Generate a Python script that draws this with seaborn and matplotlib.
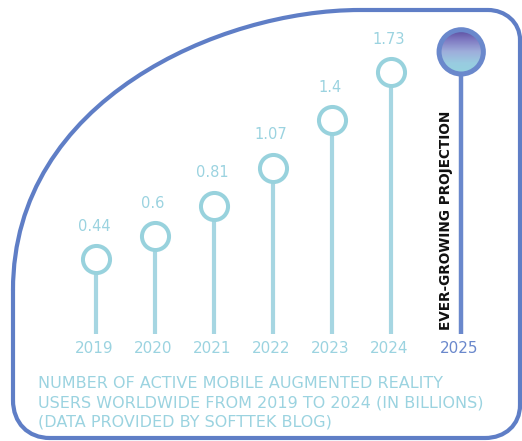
import numpy as np
import matplotlib
matplotlib.use("Agg")
import matplotlib.pyplot as plt
import seaborn as sns
import pandas as pd
from matplotlib.path import Path
from matplotlib.patches import PathPatch, Ellipse

# ---- data ----
years = ["2019", "2020", "2021", "2022", "2023", "2024"]
users = [0.44, 0.60, 0.81, 1.07, 1.40, 1.73]
value_labels = ["0.44", "0.6", "0.81", "1.07", "1.4", "1.73"]
proj_year = "2025"
proj_value = 1.87
proj_label = "EVER-GROWING PROJECTION"
caption_lines = [
    "NUMBER OF ACTIVE MOBILE AUGMENTED REALITY",
    "USERS WORLDWIDE FROM 2019 TO 2024 (IN BILLIONS)",
    "(DATA PROVIDED BY SOFTTEK BLOG)",
]

# ---- style ----
sns.set_theme(style="white")
plt.rcParams['font.family'] = ['DejaVu Sans']

border_c = "#5f7ec6"
stem_c = "#a6d6e2"
circ_c = "#98d2dd"
text_c = "#9bd3e0"
proj_c = "#6a88cc"

W, H = 522, 441
fig = plt.figure(figsize=(W / 100, H / 100), dpi=100)
fig.patch.set_facecolor("white")

# overlay axes in pixel coordinates for the frame
bx = fig.add_axes([0, 0, 1, 1])
bx.set_xlim(0, W)
bx.set_ylim(H, 0)
bx.axis("off")
verts = [
    (13, 290),
    (13, 100), (220, 10), (360, 10),
    (488, 10),
    (505, 10), (520, 22), (520, 40),
    (520, 405),
    (520, 425), (505, 438), (485, 438),
    (50, 438),
    (28, 438), (13, 423), (13, 400),
    (13, 290),
]
codes = [Path.MOVETO,
         Path.CURVE4, Path.CURVE4, Path.CURVE4,
         Path.LINETO,
         Path.CURVE4, Path.CURVE4, Path.CURVE4,
         Path.LINETO,
         Path.CURVE4, Path.CURVE4, Path.CURVE4,
         Path.LINETO,
         Path.CURVE4, Path.CURVE4, Path.CURVE4,
         Path.LINETO]
bx.add_patch(PathPatch(Path(verts, codes), facecolor="none",
                       edgecolor=border_c, lw=3.0, capstyle="round",
                       joinstyle="round"))

# main axes
ax = fig.add_axes([0, 0, 1, 1])
ax.patch.set_visible(False)
step = 59.0      # pixels per category
x0 = 96.0        # pixel of first category
zero_px = 323.0  # pixel row of value 0
unit = 145.0     # pixels per billion

df = pd.DataFrame({"pos": np.arange(len(years)), "users": users, "year": years})
proj_pos = len(years) + 0.19
base = -0.075

ax.vlines(df["pos"], base, df["users"], color=stem_c, lw=3.0, zorder=1)
ax.vlines([proj_pos], base, [proj_value], color=proj_c, lw=3.2, zorder=1)
sns.scatterplot(data=df, x="pos", y="users", s=380, color="white",
                edgecolor=circ_c, linewidth=2.9, zorder=3, ax=ax, legend=False)

# gradient-filled projection circle
r = 23.0
grad = np.array([[0.33, 0.27, 0.60], [0.50, 0.48, 0.76], [0.62, 0.68, 0.86],
                 [0.60, 0.80, 0.88], [0.58, 0.83, 0.87]])
n = 64
t = np.linspace(0, 1, n)
img = np.stack([np.interp(t, np.linspace(0, 1, len(grad)), grad[:, k]) for k in range(3)], axis=-1)
img = img[:, None, :]
im = ax.imshow(img, extent=(proj_pos - r / step, proj_pos + r / step,
                            proj_value - r / unit, proj_value + r / unit),
               origin="upper", aspect="auto", zorder=4, interpolation="bilinear")
clip = Ellipse((proj_pos, proj_value), 2 * r / step, 2 * r / unit,
               facecolor="none", edgecolor="none", transform=ax.transData)
ax.add_patch(clip)
im.set_clip_path(clip)
ax.scatter([proj_pos], [proj_value], s=1017, facecolor="none",
           edgecolor=proj_c, linewidth=3.6, zorder=5)

ax.set_xlim(-x0 / step, (W - x0) / step)
ax.set_ylim(-(H - zero_px) / unit, zero_px / unit)
ax.axis("off")

# value labels
for p, v, lab in zip(df["pos"], df["users"], value_labels):
    ax.annotate(lab, (p, v), xytext=(-2, 33), textcoords="offset pixels",
                ha="center", va="center", color=text_c, fontsize=10.5)

# year labels
for p, yr in zip(df["pos"], df["year"]):
    ax.annotate(yr, (p, base), xytext=(-2, -15), textcoords="offset pixels",
                ha="center", va="center", color=text_c, fontsize=11)
ax.annotate(proj_year, (proj_pos, base), xytext=(-2, -15), textcoords="offset pixels",
            ha="center", va="center", color=proj_c, fontsize=11)

# vertical projection label
ax.annotate(proj_label, (proj_pos, base), xytext=(-15, 4), textcoords="offset pixels",
            ha="center", va="bottom", rotation=90, color="#111111",
            fontsize=9.8, fontweight="bold")

# caption
for i, line in enumerate(caption_lines):
    bx.text(38, 383 + 19.5 * i, line, ha="left", va="center", color=text_c,
            fontsize=11.5)

fig.savefig("out.png", dpi=100)
